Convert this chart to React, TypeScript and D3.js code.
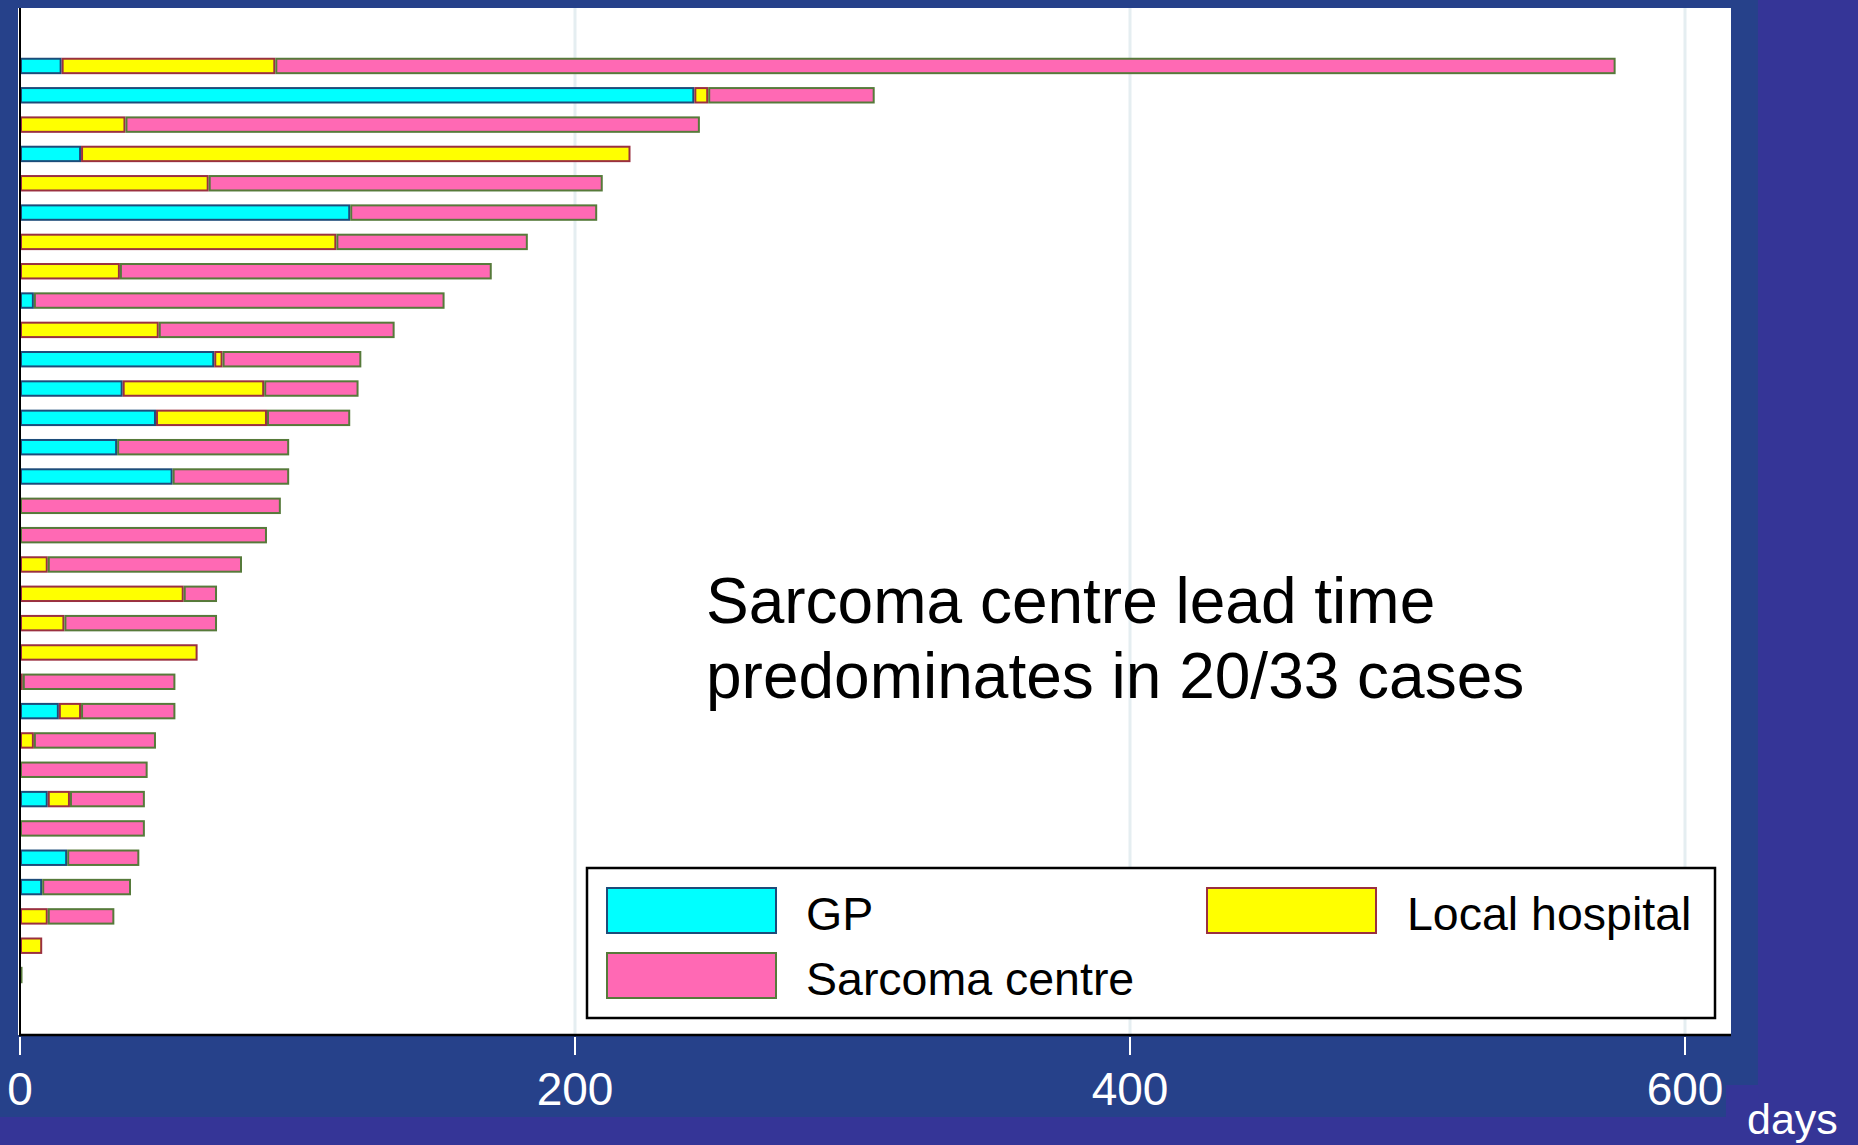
import * as d3 from 'd3';

// lead time per case (days), top row first
const cases = d3.range(1, 33).map((d) => `case${d}`);
const gp = [15, 243, 0, 22, 0, 119, 0, 0, 5, 0, 70, 37, 49, 35, 55, 0, 0, 0, 0, 0, 0, 0, 14, 0, 0, 10, 0, 17, 8, 0, 0, 0];
const localHospital = [77, 5, 38, 198, 68, 0, 114, 36, 0, 50, 3, 51, 40, 0, 0, 0, 0, 10, 59, 16, 64, 1, 8, 5, 0, 8, 0, 0, 0, 10, 8, 0];
const sarcomaCentre = [483, 60, 207, 0, 142, 89, 69, 134, 148, 85, 50, 34, 30, 62, 42, 94, 89, 70, 12, 55, 0, 55, 34, 44, 46, 27, 45, 26, 32, 24, 0, 0.4];
const xTicks = [0, 200, 400, 600];

const keys = ['gp', 'lh', 'sc'];
const seriesStyle = {
  gp: { fill: '#00ffff', stroke: '#1d4c7a', label: 'GP' },
  lh: { fill: '#ffff00', stroke: '#9a3040', label: 'Local hospital' },
  sc: { fill: '#ff69b4', stroke: '#567a3a', label: 'Sarcoma centre' },
};

const W = 1858;
const H = 1145;
const font = 'Arial, "Liberation Sans", Helvetica, sans-serif';

export default function App() {
  const rows = cases.map((c, i) => ({ id: c, gp: gp[i], lh: localHospital[i], sc: sarcomaCentre[i] }));
  const stacked = d3.stack().keys(keys)(rows);

  const x = d3.scaleLinear().domain([0, 600]).range([20, 1685]);
  const y = d3.scaleBand().domain(cases).range([51.3, 989.7]).paddingInner(0.44).paddingOuter(0.22);

  const plot = { left: 18, top: 8, right: 1731, bottom: 1035 };

  return (
    <div style={{ position: 'absolute', left: 0, top: 0 }}>
      <svg width={W} height={H} style={{ display: 'block' }}>
        <rect x={0} y={0} width={W} height={H} fill="#353597" />
        <rect x={0} y={0} width={1758} height={1085} fill="#26418a" />
        <rect x={0} y={1085} width={1726} height={32} fill="#26418a" />

        <rect x={plot.left} y={plot.top} width={plot.right - plot.left} height={plot.bottom - plot.top} fill="#ffffff" />

        {/* grid */}
        {xTicks.filter((t) => t > 0).map((t) => (
          <line key={t} x1={x(t)} x2={x(t)} y1={plot.top} y2={plot.bottom} stroke="#e5eef1" strokeWidth={3} />
        ))}

        {/* bars */}
        {stacked.map((s) => (
          <g key={s.key}>
            {s.map((d, i) => {
              const v = d[1] - d[0];
              if (v <= 0) return null;
              const st = seriesStyle[s.key];
              const x0 = x(d[0]);
              const x1 = x(d[1]);
              const w = Math.max(x1 - x0 - 2, 0.5);
              return (
                <rect
                  key={i}
                  x={x0 + 1}
                  y={y(cases[i]) + 1}
                  width={w}
                  height={y.bandwidth() - 2}
                  fill={st.fill}
                  stroke={st.stroke}
                  strokeWidth={2}
                />
              );
            })}
          </g>
        ))}

        {/* axes */}
        <line x1={20} x2={20} y1={plot.top} y2={plot.bottom + 1} stroke="#000" strokeWidth={2} />
        <line x1={19} x2={plot.right} y1={plot.bottom} y2={plot.bottom} stroke="#000" strokeWidth={2.5} />
        {xTicks.map((t) => (
          <g key={t}>
            <line x1={x(t)} x2={x(t)} y1={plot.bottom + 2} y2={1055} stroke="#ffffff" strokeWidth={2} />
            <text x={x(t)} y={1105} fill="#ffffff" fontFamily={font} fontSize={46} textAnchor="middle">
              {t}
            </text>
          </g>
        ))}
        <text x={1747} y={1134} fill="#ffffff" fontFamily={font} fontSize={43}>
          days
        </text>

        {/* annotation */}
        <text fontFamily={font} fontSize={64} fill="#000">
          <tspan x={706} y={623}>Sarcoma centre lead time</tspan>
          <tspan x={706} y={698}>predominates in 20/33 cases</tspan>
        </text>

        {/* legend */}
        <rect x={587} y={868} width={1128} height={150} fill="#ffffff" stroke="#000" strokeWidth={2.5} />
        {[
          { k: 'gp', sx: 607, sy: 888, tx: 806 },
          { k: 'lh', sx: 1207, sy: 888, tx: 1407 },
          { k: 'sc', sx: 607, sy: 953, tx: 806 },
        ].map((l) => (
          <g key={l.k}>
            <rect x={l.sx} y={l.sy} width={169} height={45} fill={seriesStyle[l.k].fill} stroke={seriesStyle[l.k].stroke} strokeWidth={2} />
            <text x={l.tx} y={l.sy + 42} fontFamily={font} fontSize={46.5} fill="#000">
              {seriesStyle[l.k].label}
            </text>
          </g>
        ))}
      </svg>
    </div>
  );
}
